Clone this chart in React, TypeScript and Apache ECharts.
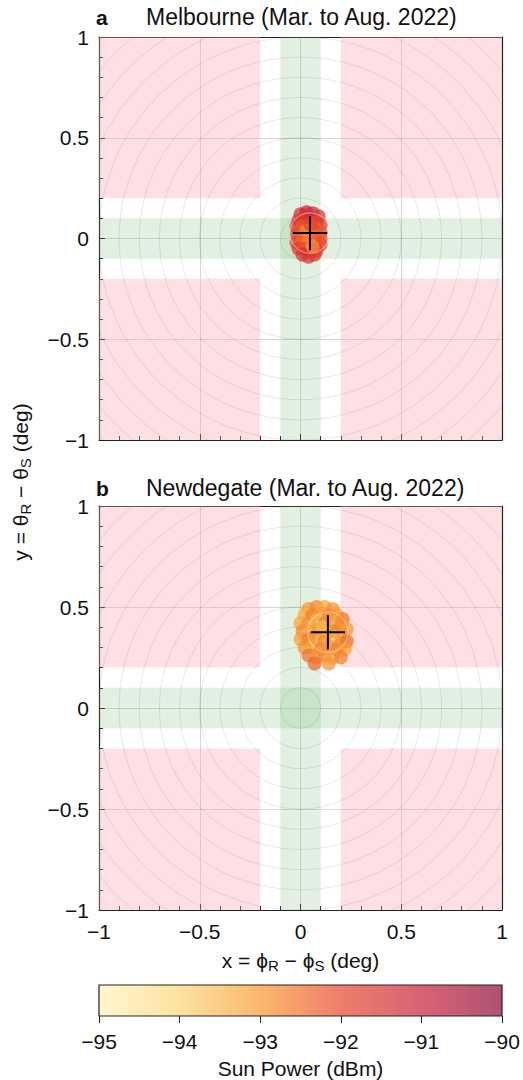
import React, { useEffect, useRef } from "react";
import * as echarts from "echarts";

const FONT = "Liberation Sans, Arial, Helvetica, sans-serif";

// axis ticks
const axisMin = -1;
const axisMax = 1;
const axisInterval = 0.5;

// colour bar
const cbarValues = [-95, -94, -93, -92, -91, -90];
const cbarColors = ["#fff3bb", "#fcd577", "#f8992e", "#e8462a", "#c91f3a", "#8b0a35"];

// background regions [x0, x1, y0, y1]
const redRegions = [
  [-1, -0.2, 0.2, 1],
  [0.2, 1, 0.2, 1],
  [-1, -0.2, -1, -0.2],
  [0.2, 1, -1, -0.2],
];
const greenRegions = [
  [-0.1, 0.1, -1, 1],
  [-1, 1, -0.1, 0.1],
];

// concentric circle radii (deg)
const ringRadii = [0.1, 0.2, 0.3, 0.4, 0.5, 0.6, 0.7, 0.8, 0.9, 1.0, 1.1, 1.2, 1.3, 1.4];

// Melbourne points [x, y, sun power dBm]
const melbournePoints = [
  [0.0, 0.12, -91.3], [0.03, 0.13, -91.0], [0.06, 0.125, -91.2], [0.09, 0.11, -91.5],
  [-0.01, 0.09, -91.8], [0.02, 0.1, -91.6], [0.05, 0.09, -91.4], [0.08, 0.08, -92.0],
  [0.1, 0.07, -91.7], [-0.02, 0.06, -91.5], [0.01, 0.06, -92.2], [0.04, 0.05, -92.0],
  [0.07, 0.05, -92.4], [0.1, 0.03, -92.1], [-0.02, 0.02, -91.9], [0.01, 0.02, -92.3],
  [0.04, 0.02, -92.6], [0.07, 0.01, -92.5], [0.1, 0.0, -92.2], [-0.02, -0.02, -91.8],
  [0.01, -0.01, -92.4], [0.04, -0.02, -92.7], [0.07, -0.02, -92.3], [0.1, -0.03, -91.9],
  [-0.01, -0.05, -91.6], [0.02, -0.05, -92.1], [0.05, -0.06, -92.0], [0.08, -0.06, -91.7],
  [0.01, -0.08, -91.5], [0.04, -0.09, -91.4], [0.07, -0.08, -91.6], [0.03, 0.04, -92.8],
  [0.06, -0.04, -92.9], [0.05, 0.07, -91.9],
];

// Newdegate points [x, y, sun power dBm]
const newdegatePoints = [
  [0.04, 0.49, -93.0], [0.08, 0.5, -92.8], [0.12, 0.5, -93.2], [0.16, 0.49, -92.9],
  [0.02, 0.46, -93.3], [0.06, 0.46, -92.7], [0.1, 0.47, -93.1], [0.14, 0.46, -92.8],
  [0.18, 0.46, -93.0], [0.21, 0.44, -92.6], [0.0, 0.42, -93.2], [0.04, 0.42, -92.9],
  [0.08, 0.43, -93.4], [0.12, 0.42, -92.7], [0.16, 0.42, -93.1], [0.2, 0.41, -92.8],
  [0.23, 0.39, -93.0], [0.01, 0.38, -92.8], [0.05, 0.38, -93.3], [0.09, 0.39, -92.9],
  [0.13, 0.37, -93.2], [0.17, 0.38, -92.7], [0.21, 0.36, -93.0], [0.0, 0.34, -93.1],
  [0.04, 0.34, -92.6], [0.08, 0.35, -93.0], [0.12, 0.33, -92.8], [0.16, 0.34, -93.3],
  [0.2, 0.32, -92.9], [0.23, 0.33, -92.5], [0.02, 0.3, -92.9], [0.06, 0.3, -93.2],
  [0.1, 0.29, -92.7], [0.14, 0.3, -93.0], [0.18, 0.29, -92.6], [0.22, 0.29, -93.1],
  [0.04, 0.26, -92.5], [0.08, 0.25, -93.0], [0.12, 0.26, -92.8], [0.16, 0.25, -93.2],
  [0.2, 0.25, -92.7], [0.07, 0.22, -92.4], [0.14, 0.22, -92.9], [0.11, 0.4, -93.5],
];

// crosshair centres [x, y]
const melbourneCross = [0.047, 0.027];
const newdegateCross = [0.136, 0.375];
const crossArm = 0.085;
const crossRing = 0.1;

const minusFmt = (v: number) => String(v).replace("-", "\u2212");

const TICK_FS = 21;
const NAME_FS = 21;

function panelAxes(grid: number, showXLabels: boolean, xName?: string) {
  const tickStyle = { color: "#222", width: 1 };
  const xAxis: any[] = [
    {
      type: "value", gridIndex: grid, min: axisMin, max: axisMax, interval: axisInterval,
      position: "bottom",
      axisLine: { show: true, onZero: false, lineStyle: { color: "#222", width: 1.2 } },
      axisTick: { show: true, inside: true, length: 6, lineStyle: tickStyle },
      minorTick: { show: true, splitNumber: 5, length: 4, lineStyle: tickStyle },
      splitLine: { show: true, lineStyle: { color: "rgba(0,0,0,0.16)", width: 1 } },
      axisLabel: {
        show: showXLabels, formatter: minusFmt, color: "#111", fontSize: TICK_FS,
        fontFamily: FONT, margin: 11,
      },
      name: xName,
      nameLocation: "middle",
      nameGap: 38,
      nameTextStyle: {
        color: "#111", fontFamily: FONT, fontSize: NAME_FS,
        rich: {
          n: { fontSize: NAME_FS, fontFamily: FONT, color: "#111" },
          s: { fontSize: 15, fontFamily: FONT, color: "#111", padding: [10, 0, 0, 0] },
        },
      },
    },
    {
      type: "value", gridIndex: grid, min: axisMin, max: axisMax, position: "top",
      axisLine: { show: true, onZero: false, lineStyle: { color: "#222", width: 1.2 } },
      axisTick: { show: false }, axisLabel: { show: false }, splitLine: { show: false },
    },
  ];
  const yAxis: any[] = [
    {
      type: "value", gridIndex: grid, min: axisMin, max: axisMax, interval: axisInterval,
      position: "left",
      axisLine: { show: true, onZero: false, lineStyle: { color: "#222", width: 1.2 } },
      axisTick: { show: true, inside: true, length: 6, lineStyle: tickStyle },
      minorTick: { show: true, splitNumber: 5, length: 4, lineStyle: tickStyle },
      splitLine: { show: true, lineStyle: { color: "rgba(0,0,0,0.16)", width: 1 } },
      axisLabel: { formatter: minusFmt, color: "#111", fontSize: TICK_FS, fontFamily: FONT, margin: 10 },
    },
    {
      type: "value", gridIndex: grid, min: axisMin, max: axisMax, position: "right",
      axisLine: { show: true, onZero: false, lineStyle: { color: "#222", width: 1.2 } },
      axisTick: { show: false }, axisLabel: { show: false }, splitLine: { show: false },
    },
  ];
  return { xAxis, yAxis };
}

// background rectangles of one panel
function regionSeries(axisIdx: number) {
  const items = [
    ...redRegions.map((r) => [...r, 0]),
    ...greenRegions.map((r) => [...r, 1]),
  ];
  return {
    type: "custom", xAxisIndex: axisIdx, yAxisIndex: axisIdx, z: 1, silent: true,
    data: items,
    renderItem: (params: any, api: any) => {
      const p0 = api.coord([api.value(0), api.value(3)]);
      const p1 = api.coord([api.value(1), api.value(2)]);
      const fill = api.value(4) === 0 ? "rgba(250,170,178,0.36)" : "rgba(120,185,112,0.22)";
      return {
        type: "polygon",
        shape: { points: [[p0[0], p0[1]], [p1[0], p0[1]], [p1[0], p1[1]], [p0[0], p1[1]]] },
        style: { fill },
      };
    },
  };
}

// concentric rings drawn as sampled polylines
function ringSeries(axisIdx: number) {
  return {
    type: "custom", xAxisIndex: axisIdx, yAxisIndex: axisIdx, z: 2, silent: true,
    clip: true,
    data: ringRadii.map((r) => [r]),
    renderItem: (params: any, api: any) => {
      const rad = api.value(0);
      const pts: number[][] = [];
      for (let i = 0; i <= 180; i++) {
        const t = (i / 180) * Math.PI * 2;
        pts.push(api.coord([rad * Math.cos(t), rad * Math.sin(t)]));
      }
      return {
        type: "polyline",
        shape: { points: pts },
        style: { fill: "none", stroke: "rgba(0,0,0,0.09)", lineWidth: 1 },
      };
    },
  };
}

function scatterSeries(axisIdx: number, pts: number[][]) {
  return {
    type: "scatter", xAxisIndex: axisIdx, yAxisIndex: axisIdx, z: 5,
    symbolSize: 14,
    data: pts,
    itemStyle: { opacity: 0.72 },
  };
}

function crossSeries(axisIdx: number, center: number[]) {
  return {
    type: "custom", xAxisIndex: axisIdx, yAxisIndex: axisIdx, z: 8, silent: true,
    data: [center],
    renderItem: (params: any, api: any) => {
      const cx = api.value(0);
      const cy = api.value(1);
      const c = api.coord([cx, cy]);
      const ring: number[][] = [];
      for (let i = 0; i <= 72; i++) {
        const t = (i / 72) * Math.PI * 2;
        ring.push(api.coord([cx + crossRing * Math.cos(t), cy + crossRing * Math.sin(t)]));
      }
      const h0 = api.coord([cx - crossArm, cy]);
      const h1 = api.coord([cx + crossArm, cy]);
      const v0 = api.coord([cx, cy - crossArm]);
      const v1 = api.coord([cx, cy + crossArm]);
      return {
        type: "group",
        children: [
          { type: "polyline", shape: { points: ring },
            style: { fill: "none", stroke: "rgba(255,255,255,0.5)", lineWidth: 1 } },
          { type: "line", shape: { x1: h0[0], y1: c[1], x2: h1[0], y2: c[1] },
            style: { stroke: "#000", lineWidth: 2 } },
          { type: "line", shape: { x1: c[0], y1: v1[1], x2: c[0], y2: v0[1] },
            style: { stroke: "#000", lineWidth: 2 } },
        ],
      };
    },
  };
}

export default function App() {
  const ref = useRef<HTMLDivElement>(null);
  useEffect(() => {
    if (!ref.current) return;
    const chart = echarts.init(ref.current, null, { renderer: "svg" });
    const a = panelAxes(0, false);
    const b = panelAxes(1, true, "{n|x = \u03d5}{s|R}{n| \u2212 \u03d5}{s|S}{n| (deg)}");
    const cbX = {
      type: "value", gridIndex: 2, min: cbarValues[0], max: cbarValues[cbarValues.length - 1],
      interval: 1, position: "bottom",
      axisLine: { show: false },
      axisTick: { show: true, inside: false, length: 7, lineStyle: { color: "#222" } },
      splitLine: { show: false },
      axisLabel: { formatter: minusFmt, color: "#111", fontSize: TICK_FS, fontFamily: FONT, margin: 15 },
      name: "Sun Power (dBm)", nameLocation: "middle", nameGap: 42,
      nameTextStyle: { color: "#111", fontSize: NAME_FS, fontFamily: FONT },
    };
    const cbY = { type: "value", gridIndex: 2, min: 0, max: 1, show: false };
    const span = cbarValues[cbarValues.length - 1] - cbarValues[0];
    const cbarSeries = {
      type: "custom", xAxisIndex: 4, yAxisIndex: 4, silent: true,
      data: [[cbarValues[0], cbarValues[cbarValues.length - 1]]],
      renderItem: (params: any, api: any) => {
        const p0 = api.coord([api.value(0), 1]);
        const p1 = api.coord([api.value(1), 0]);
        const shape = { x: p0[0], y: p0[1], width: p1[0] - p0[0], height: p1[1] - p0[1] };
        return {
          type: "group",
          children: [
            {
              type: "rect", shape,
              style: {
                opacity: 0.7,
                fill: new echarts.graphic.LinearGradient(0, 0, 1, 0,
                  cbarValues.map((v, i) => ({ offset: (v - cbarValues[0]) / span, color: cbarColors[i] }))),
              },
            },
            { type: "rect", shape, style: { fill: "none", stroke: "#222", lineWidth: 1.2 } },
          ],
        };
      },
    };
    const titleStyle = { fontFamily: FONT, fontSize: 23, fill: "#111" };
    const option: any = {
      animation: false,
      backgroundColor: "#fff",
      grid: [
        { left: 99, top: 37, width: 403, height: 403 },
        { left: 99, top: 506, width: 403, height: 404 },
        { left: 99, top: 985, width: 403, height: 31 },
      ],
      xAxis: [...a.xAxis, ...b.xAxis, cbX],
      yAxis: [...a.yAxis, ...b.yAxis, cbY],
      visualMap: {
        type: "continuous", show: false, seriesIndex: [2, 6], dimension: 2,
        min: cbarValues[0], max: cbarValues[cbarValues.length - 1],
        inRange: { color: cbarColors },
      },
      series: [
        regionSeries(0),
        ringSeries(0),
        scatterSeries(0, melbournePoints),
        crossSeries(0, melbourneCross),
        regionSeries(2),
        ringSeries(2),
        scatterSeries(2, newdegatePoints),
        crossSeries(2, newdegateCross),
        cbarSeries,
      ],
      graphic: [
        { type: "text", x: 96, y: 17, style: { text: "a", fontFamily: FONT, fontSize: 21, fontWeight: "bold", fill: "#111", verticalAlign: "middle" } },
        { type: "text", x: 146, y: 17, style: { ...titleStyle, text: "Melbourne (Mar. to Aug. 2022)", verticalAlign: "middle" } },
        { type: "text", x: 96, y: 488, style: { text: "b", fontFamily: FONT, fontSize: 21, fontWeight: "bold", fill: "#111", verticalAlign: "middle" } },
        { type: "text", x: 146, y: 488, style: { ...titleStyle, text: "Newdegate (Mar. to Aug. 2022)", verticalAlign: "middle" } },
        {
          type: "text", x: 20, y: 482, rotation: Math.PI / 2,
          style: {
            text: "{n|y = \u03b8}{s|R}{n| \u2212 \u03b8}{s|S}{n| (deg)}",
            align: "center", verticalAlign: "middle",
            rich: {
              n: { fontSize: NAME_FS, fontFamily: FONT, fill: "#111" },
              s: { fontSize: 15, fontFamily: FONT, fill: "#111", padding: [10, 0, 0, 0] },
            },
          },
        },
      ],
    };
    chart.setOption(option);
    return () => chart.dispose();
  }, []);
  return (
    <div
      ref={ref}
      style={{ position: "fixed", left: 0, top: 0, width: 523, height: 1080, background: "#fff" }}
    />
  );
}
